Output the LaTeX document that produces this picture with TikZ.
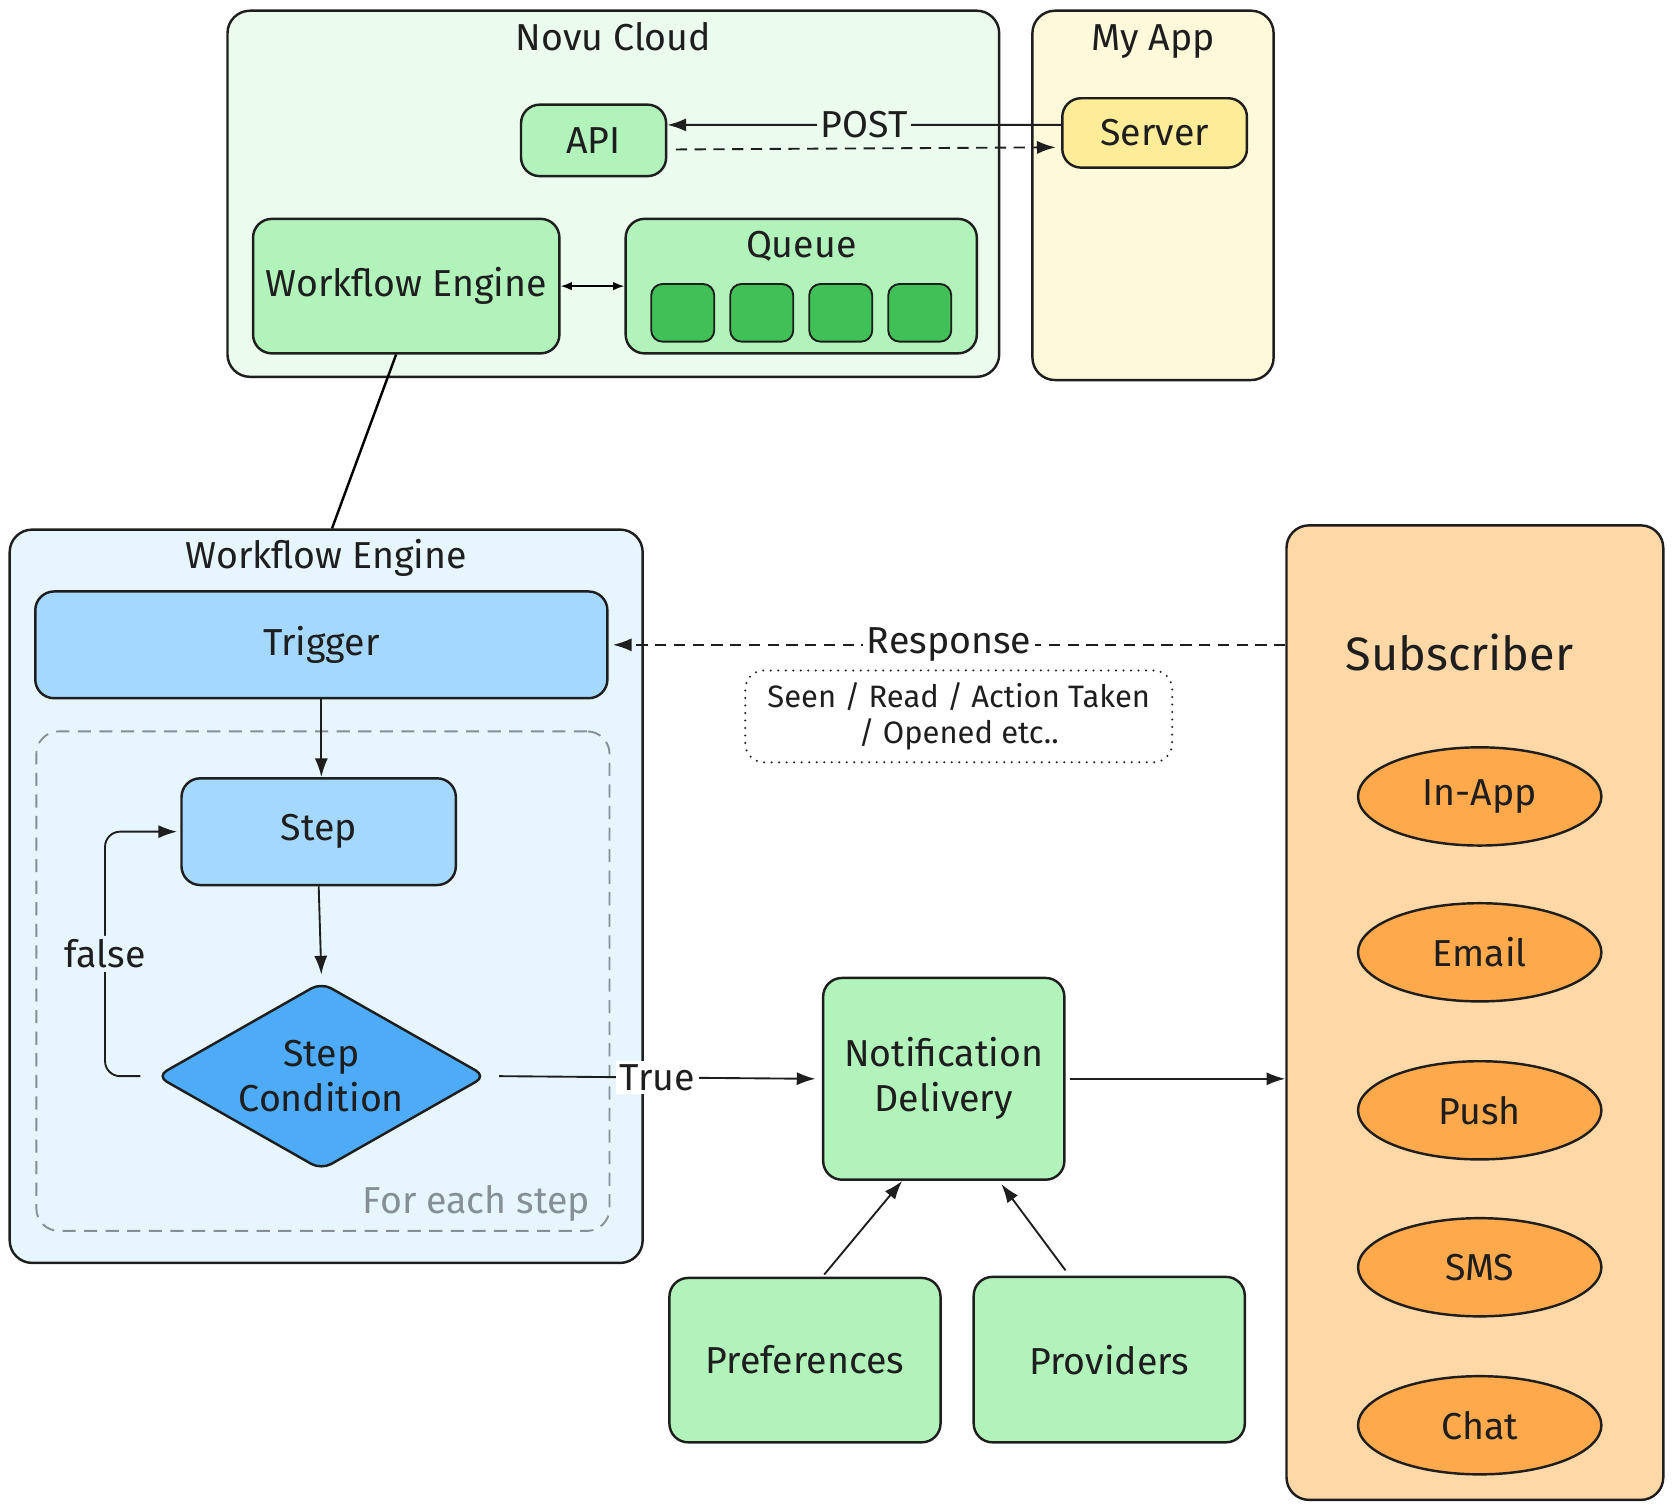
\documentclass[tikz,border=0pt]{standalone}
\usepackage{fontspec}
\setmainfont{Fira Sans}
\usetikzlibrary{shapes.geometric, arrows.meta, calc}

\definecolor{ink}{HTML}{1E1E1E}
\definecolor{novubg}{HTML}{EBFBEE}
\definecolor{appbg}{HTML}{FFF9DB}
\definecolor{mint}{HTML}{B2F2BB}
\definecolor{leaf}{HTML}{40C057}
\definecolor{sand}{HTML}{FFEC99}
\definecolor{skybg}{HTML}{E7F5FF}
\definecolor{sky}{HTML}{A5D8FF}
\definecolor{ocean}{HTML}{4DABF7}
\definecolor{peach}{HTML}{FFD8A8}
\definecolor{tangerine}{HTML}{FFA94D}
\definecolor{slate}{HTML}{868E96}

\begin{document}
\begin{tikzpicture}[
    x=0.02cm, y=-0.02cm,
    font=\fontsize{20}{24}\selectfont,
    every node/.style={text=ink},
    container/.style={draw=ink, line width=1.3pt, rounded corners=12pt, inner sep=0pt},
    box/.style={draw=ink, line width=1.3pt, rounded corners=10pt, fill=mint, inner sep=0pt, align=center},
    slot/.style={draw=ink, line width=1pt, rounded corners=6pt, fill=leaf, minimum width=1.18cm, minimum height=1.08cm},
    channel/.style={ellipse, draw=ink, line width=1.3pt, fill=tangerine, minimum width=4.56cm, minimum height=1.84cm},
    arr/.style={-{Latex[length=10pt,width=7pt]}, line width=1pt, draw=ink},
    dash line/.style={dash pattern=on 6pt off 4pt},
    tag/.style={inner sep=2pt}
]
    \useasboundingbox (0,0) rectangle (1568,1416);

    % containers
    \node[container, fill=novubg, minimum width=14.46cm, minimum height=6.86cm] (novu) at (574.5,181.5) {};
    \node[container, fill=appbg, minimum width=4.52cm, minimum height=6.92cm] (myapp) at (1080,183) {};
    \node[container, fill=skybg, minimum width=11.86cm, minimum height=13.74cm] (welow) at (305.5,839.5) {};
    \node[container, fill=peach, minimum width=7.06cm, minimum height=18.26cm] (subscriber) at (1381.5,948.5) {};

    \node at ([yshift=-0.5cm]novu.north) {Novu Cloud};
    \node at ([yshift=-0.6cm]myapp.north) {My App};
    \node at ([yshift=-0.56cm]welow.north) {Workflow Engine};
    \node[font=\fontsize{25}{30}\selectfont] at ([xshift=-0.29cm, yshift=-2.4cm]subscriber.north) {Subscriber};

    % cloud side
    \node[box, minimum width=2.72cm, minimum height=1.34cm] (api) at (556,131.5) {API};
    \node[box, fill=sand, minimum width=3.46cm, minimum height=1.3cm] (server) at (1081.5,124.5) {Server};
    \node[box, minimum width=5.74cm, minimum height=2.52cm] (wetop) at (380.5,268) {Workflow Engine};
    \node[box, minimum width=6.58cm, minimum height=2.52cm] (queue) at (750.5,268) {};
    \node at ([yshift=-0.54cm]queue.north) {Queue};
    \foreach \i/\x in {1/639.5, 2/713.5, 3/787.5, 4/861.5}
        \node[slot] (slot\i) at (\x,293) {};

    % workflow engine
    \node[box, fill=sky, minimum width=10.72cm, minimum height=2cm] (trigger) at (301,604) {Trigger};
    \node[container, draw=slate, line width=1pt, dash pattern=on 7pt off 4.5pt, minimum width=10.74cm, minimum height=9.36cm] (foreach) at (302.5,919) {};
    \node[anchor=base east, text=slate] at ([xshift=-0.26cm, yshift=0.34cm]foreach.south east) {For each step};
    \node[box, fill=sky, minimum width=5.14cm, minimum height=2cm] (step) at (298.5,779) {Step};
    \node[diamond, aspect=1.8, draw=ink, line width=1.3pt, fill=ocean, rounded corners=6pt, inner sep=0pt,
          minimum width=6.18cm, minimum height=3.52cm, align=center] (cond) at (301,1008) {Step\\Condition};

    % delivery
    \node[box, minimum width=4.52cm, minimum height=3.78cm] (delivery) at (884,1010.5) {Notification\\Delivery};
    \node[box, minimum width=5.08cm, minimum height=3.08cm] (prefs) at (754,1274) {Preferences};
    \node[box, minimum width=5.08cm, minimum height=3.1cm] (providers) at (1039,1273.5) {Providers};

    \foreach \name/\txt/\y in {inapp/In-App/746, email/Email/892, push/Push/1040, sms/SMS/1187, chat/Chat/1335}
        \node[channel] (\name) at (1386,\y) {\txt};

    \node[draw=ink, line width=1.2pt, line cap=round, dash pattern=on 0pt off 4pt, rounded corners=10pt,
          minimum width=8cm, minimum height=1.72cm, align=center, font=\fontsize{16.5}{19.5}\selectfont] (events) at (898,671)
          {Seen / Read / Action Taken\\/ Opened etc..};

    % connectors
    \draw[arr] ([yshift=0.15cm]server.west) -- node[tag, fill=novubg] {POST} ([yshift=0.29cm]api.east);
    \draw[arr, dash line] ([xshift=0.16cm, yshift=-0.17cm]api.east) -- ([xshift=-0.1cm, yshift=-0.27cm]server.west);
    \draw[{Latex[length=6pt,width=4.5pt]}-{Latex[length=6pt,width=4.5pt]}, line width=0.9pt] (wetop.east) -- (queue.west);
    \draw[line width=1.3pt] ([xshift=-0.19cm]wetop.south) -- ([xshift=0.11cm]welow.north);

    \draw[arr] (trigger.south) -- (trigger.south |- step.north);
    \draw[arr] (step.south) -- ([yshift=0.12cm]cond.north);
    \draw[arr, rounded corners=8pt] ([xshift=-0.28cm]cond.west) -- ++(-0.66cm,0)
        |- node[pos=0.25, tag, fill=skybg] {false} ([xshift=-0.06cm]step.west);
    \draw[arr] ([xshift=0.22cm]cond.east) -- node[tag, fill=white] {True} ([xshift=-0.12cm]delivery.west);
    \draw[arr] ([xshift=0.08cm]delivery.east) -- (delivery.east -| subscriber.west);
    \draw[arr] ([xshift=0.36cm, yshift=0.04cm]prefs.north) -- ([xshift=-0.78cm]delivery.south);
    \draw[arr] ([xshift=-0.82cm, yshift=0.1cm]providers.north) -- ([xshift=1.08cm, yshift=-0.06cm]delivery.south);
    \draw[arr, dash line] (subscriber.west |- trigger.east) -- node[tag, fill=white] {Response} ([xshift=0.08cm]trigger.east);
\end{tikzpicture}
\end{document}
